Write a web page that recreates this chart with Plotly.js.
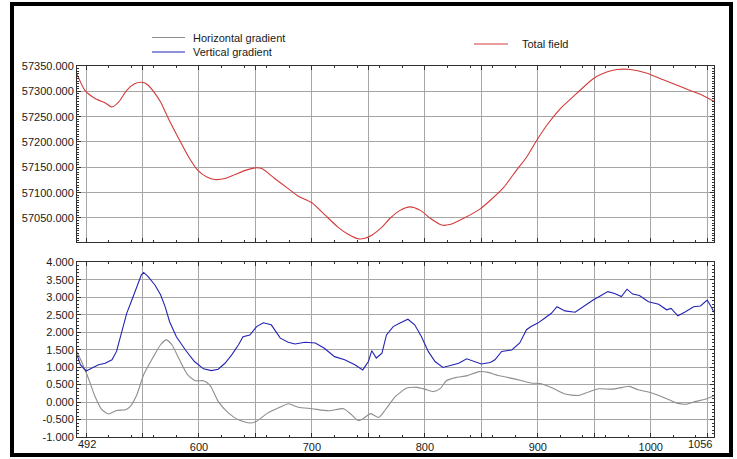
<!DOCTYPE html>
<html><head><meta charset="utf-8">
<script src="https://cdn.plot.ly/plotly-3.0.1.min.js"></script>
<style>
html,body{margin:0;padding:0;background:#fff;}
#wrap{position:relative;width:737px;height:459px;}
#chart{width:737px;height:459px;}
#frame{position:absolute;left:10px;top:2px;width:723px;height:455px;box-sizing:border-box;border:4px solid #000;pointer-events:none;}
</style>
</head><body><div id="wrap"><div id="chart"></div><div id="frame"></div></div>
<script>
// Total field (top panel)
const totalX = [492,499,508,517,523,529,536,543,549,554,560,566,573,582,591,599,607,614,623,632,641,650,656,667,679,688,700,712,723,732,741,747,753,762,769,778,787,796,805,815,822,834,849,858,870,881,890,899,908,920,934,949,961,970,982,996,1011,1029,1044,1056];
const totalY = [57334,57302,57286,57277,57269,57279,57302,57315,57318,57314,57299,57279,57246,57207,57170,57144,57131,57126,57128,57136,57144,57149,57147,57128,57108,57093,57080,57055,57032,57018,57009,57010,57016,57032,57049,57065,57072,57065,57049,57036,57037,57049,57068,57085,57111,57144,57170,57203,57233,57266,57295,57325,57338,57343,57343,57336,57323,57307,57294,57280];

// Vertical gradient (bottom panel)
const vertX = [492,495,500,505,511,517,523,527,531,536,540,545,549,551,555,561,566,570,574,580,588,596,604,611,617,623,629,635,639,645,651,657,664,672,679,685,694,703,711,720,729,738,745,750,753,757,762,766,772,778,785,791,797,803,809,816,824,830,837,843,850,858,862,868,877,884,890,894,900,906,912,917,924,933,942,949,956,962,968,974,979,984,990,998,1007,1014,1018,1024,1030,1038,1044,1050,1054,1056];
const vertY = [1.35,1.07,0.89,0.97,1.07,1.11,1.21,1.45,1.92,2.54,2.87,3.30,3.64,3.71,3.59,3.35,3.07,2.73,2.30,1.87,1.49,1.16,0.95,0.90,0.94,1.11,1.35,1.64,1.87,1.92,2.16,2.27,2.21,1.83,1.71,1.66,1.71,1.69,1.54,1.30,1.21,1.07,0.92,1.16,1.47,1.26,1.40,1.92,2.16,2.26,2.37,2.21,1.87,1.45,1.16,0.99,1.07,1.11,1.24,1.18,1.09,1.13,1.21,1.45,1.49,1.69,2.07,2.16,2.26,2.40,2.54,2.73,2.61,2.57,2.78,2.92,3.05,3.16,3.11,3.02,3.23,3.09,3.05,2.87,2.80,2.64,2.68,2.47,2.57,2.73,2.75,2.92,2.70,2.57];

// Horizontal gradient (bottom panel)
const horizX = [492,496,502,508,514,520,527,535,539,545,551,559,566,571,576,582,590,597,604,610,617,626,635,645,651,661,673,679,688,700,715,728,735,741,746,752,759,765,774,784,793,800,808,814,819,827,837,848,856,865,874,886,895,902,913,924,936,945,954,966,975,981,989,1001,1013,1023,1032,1040,1049,1056];
const horizY = [1.45,1.16,0.69,0.16,-0.22,-0.34,-0.24,-0.22,-0.13,0.21,0.78,1.26,1.64,1.78,1.64,1.26,0.78,0.61,0.61,0.47,0.02,-0.31,-0.51,-0.60,-0.55,-0.31,-0.13,-0.05,-0.15,-0.19,-0.25,-0.19,-0.36,-0.53,-0.46,-0.33,-0.44,-0.22,0.16,0.40,0.42,0.37,0.30,0.40,0.61,0.70,0.75,0.87,0.85,0.76,0.70,0.61,0.54,0.53,0.40,0.23,0.19,0.29,0.38,0.37,0.42,0.45,0.35,0.26,0.11,-0.03,-0.06,0.02,0.09,0.18];

// Axes / ticks
const xRange = [492, 1056];
const xGridVals = [500,550,600,650,700,750,800,850,900,950,1000,1050];
const xLabelVals = [600,700,800,900,1000];
const xEndLabels = ['492','1056'];
const topYRange = [57002.6, 57350];
const botYVals = [-1,-0.5,0,0.5,1,1.5,2,2.5,3,3.5,4];
const botYText = ['-1.000','-0.500','0.000','0.500','1.000','1.500','2.000','2.500','3.000','3.500','4.000'];

// Series names / colours
const seriesNames = ['Horizontal gradient', 'Vertical gradient', 'Total field'];
const seriesColors = ['#8e8e8e', '#2323b4', '#d43a3a'];

const FONT = 'Liberation Sans, Arial, sans-serif';
const gridColor = '#a6a6a6';
const lineColor = '#303030';

function axisBase(extra) {
  return Object.assign({
    showline: true, linecolor: lineColor, linewidth: 1, mirror: 'ticks',
    showgrid: true, gridcolor: gridColor, gridwidth: 1, zeroline: false,
    ticks: 'inside', tickcolor: lineColor, ticklen: 4, tickwidth: 1,
    tickfont: {family: FONT, size: 11, color: '#1a1a1a'}
  }, extra);
}

const xTickText = xGridVals.map(v => xLabelVals.includes(v) ? String(v) : '');

const traces = [
  {x: horizX, y: horizY, xaxis: 'x', yaxis: 'y', type: 'scatter', mode: 'lines',
   name: seriesNames[0], line: {color: seriesColors[0], width: 1.1, shape: 'spline', smoothing: 0.6}},
  {x: vertX, y: vertY, xaxis: 'x', yaxis: 'y', type: 'scatter', mode: 'lines',
   name: seriesNames[1], line: {color: seriesColors[1], width: 1.1}},
  {x: totalX, y: totalY, xaxis: 'x2', yaxis: 'y2', type: 'scatter', mode: 'lines',
   name: seriesNames[2], line: {color: seriesColors[2], width: 1.1, shape: 'spline', smoothing: 0.6}}
];

// legend drawn as paper-anchored keys (positions in paper fractions)
const legendKeys = [
  {x0: 0.1177, x1: 0.1695, y: 1.0768, tx: 0.1805},
  {x0: 0.1177, x1: 0.1695, y: 1.0377, tx: 0.1805},
  {x0: 0.6232, x1: 0.6766, y: 1.0593, tx: 0.697}
];
const legendShapes = legendKeys.map((k, i) => ({
  type: 'line', xref: 'paper', yref: 'paper', x0: k.x0, x1: k.x1, y0: k.y, y1: k.y,
  line: {color: seriesColors[i], width: 1.2}
}));
const legendTexts = legendKeys.map((k, i) => ({
  text: seriesNames[i], xref: 'paper', yref: 'paper', x: k.tx, y: k.y,
  xanchor: 'left', yanchor: 'middle', showarrow: false, borderpad: 0,
  font: {family: FONT, size: 11, color: '#1a1a1a'}
}));

const layout = {
  width: 737, height: 459,
  margin: {l: 77, r: 23, t: 66, b: 22, pad: 0},
  paper_bgcolor: '#ffffff', plot_bgcolor: '#ffffff',
  font: {family: FONT, size: 11, color: '#1a1a1a'},
  showlegend: false,
  xaxis: axisBase({domain: [0, 1], anchor: 'y', range: xRange, tickmode: 'array',
    tickvals: xGridVals, ticktext: xTickText, showticklabels: true,
    minor: {tickmode: 'linear', tick0: 0, dtick: 20, ticks: 'inside', ticklen: 2, tickcolor: lineColor, showgrid: false}}),
  yaxis: axisBase({domain: [0, 0.4709], anchor: 'x', range: [-1, 4], tickmode: 'array',
    tickvals: botYVals, ticktext: botYText,
    minor: {tickmode: 'linear', tick0: 0, dtick: 0.1, ticks: 'inside', ticklen: 2, tickcolor: lineColor, showgrid: false}}),
  xaxis2: axisBase({domain: [0, 1], anchor: 'y2', range: xRange, tickmode: 'array',
    tickvals: xGridVals, showticklabels: false,
    minor: {tickmode: 'linear', tick0: 0, dtick: 20, ticks: 'inside', ticklen: 2, tickcolor: lineColor, showgrid: false}}),
  yaxis2: axisBase({domain: [0.5256, 1], anchor: 'x2', range: topYRange, tickmode: 'linear',
    tick0: 57050, dtick: 50, tickformat: '.3f',
    minor: {tickmode: 'linear', tick0: 0, dtick: 5, ticks: 'inside', ticklen: 2, tickcolor: lineColor, showgrid: false}}),
  shapes: legendShapes,
  annotations: [
    {text: xEndLabels[0], x: xRange[0], xref: 'x', y: -0.019, yref: 'paper', xanchor: 'left', yanchor: 'middle',
     showarrow: false, font: {family: FONT, size: 11, color: '#1a1a1a'}, borderpad: 0},
    {text: xEndLabels[1], x: xRange[1], xref: 'x', y: -0.019, yref: 'paper', xanchor: 'right', yanchor: 'middle',
     showarrow: false, xshift: -1, font: {family: FONT, size: 11, color: '#1a1a1a'}, borderpad: 0}
  ].concat(legendTexts)
};

Plotly.newPlot('chart', traces, layout, {staticPlot: true, displayModeBar: false});
</script></body></html>
